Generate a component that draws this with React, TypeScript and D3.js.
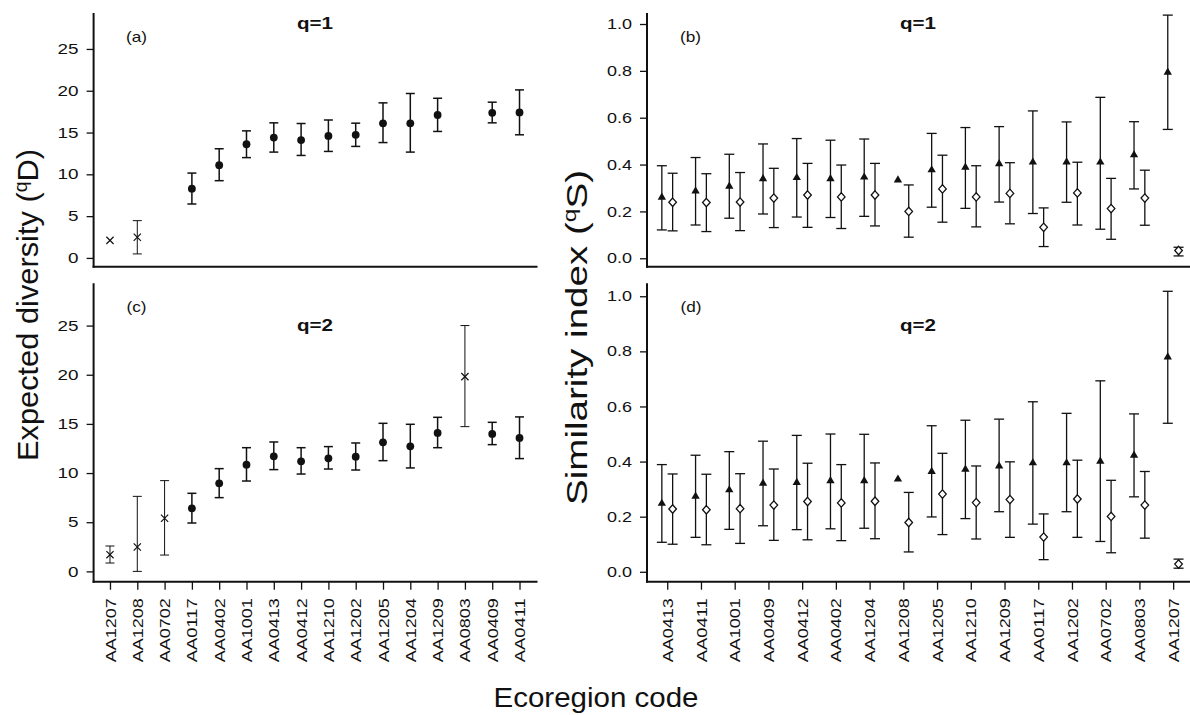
import React, { useEffect, useRef } from "react";
import * as d3 from "d3";

const W = 1190;
const H = 715;
const FONT = '"Liberation Sans", Arial, Helvetica, sans-serif';
const INK = "#111";

// left panels (a) and (c): expected diversity per ecoregion
const leftCodes = [
  "AA1207", "AA1208", "AA0702", "AA0117", "AA0402", "AA1001", "AA0413", "AA0412",
  "AA1210", "AA1202", "AA1205", "AA1204", "AA1209", "AA0803", "AA0409", "AA0411",
];
const crossCodes = ["AA1207", "AA1208", "AA0702", "AA0803"];

const divQ1 = [2.1, 2.47, null, 8.28, 11.1, 13.6, 14.4, 14.1, 14.6, 14.73, 16.1, 16.1, 17.1, null, 17.36, 17.4];
const divQ1Low = [null, 0.48, null, 6.45, 9.24, 12.0, 12.66, 12.26, 12.74, 13.34, 13.8, 12.66, 15.13, null, 16.16, 14.73];
const divQ1High = [null, 4.46, null, 10.15, 13.06, 15.2, 16.16, 16.08, 16.5, 16.12, 18.55, 19.67, 19.1, null, 18.63, 20.1];

const divQ2 = [1.7, 2.48, 5.4, 6.41, 8.96, 10.85, 11.7, 11.19, 11.5, 11.67, 13.13, 12.72, 14.08, 19.81, 13.98, 13.57];
const divQ2Low = [0.85, 0.0, 1.66, 4.92, 7.5, 9.19, 10.35, 9.9, 10.41, 10.31, 11.26, 10.52, 12.58, 14.72, 12.89, 11.47];
const divQ2High = [2.58, 7.63, 9.23, 7.94, 10.45, 12.58, 13.16, 12.58, 12.69, 13.06, 15.06, 14.96, 15.67, 25.0, 15.16, 15.71];

// right panels (b) and (d): similarity index, triangles and diamonds
const rightCodes = [
  "AA0413", "AA0411", "AA1001", "AA0409", "AA0412", "AA0402", "AA1204", "AA1208",
  "AA1205", "AA1210", "AA1209", "AA0117", "AA1202", "AA0702", "AA0803", "AA1207",
];

const simQ1Tri = [0.26, 0.287, 0.307, 0.339, 0.344, 0.339, 0.346, 0.334, 0.377, 0.388, 0.403, 0.41, 0.411, 0.41, 0.441, 0.794];
const simQ1TriLow = [0.121, 0.142, 0.171, 0.189, 0.176, 0.174, 0.179, null, 0.218, 0.213, 0.24, 0.191, 0.239, 0.124, 0.296, 0.55];
const simQ1TriHigh = [0.395, 0.43, 0.444, 0.488, 0.511, 0.504, 0.509, null, 0.533, 0.558, 0.562, 0.629, 0.582, 0.687, 0.583, 1.038];
const simQ1Dia = [0.239, 0.238, 0.24, 0.257, 0.27, 0.262, 0.27, 0.2, 0.296, 0.262, 0.277, 0.132, 0.279, 0.212, 0.257, 0.033];
const simQ1DiaLow = [0.117, 0.114, 0.118, 0.131, 0.132, 0.127, 0.138, 0.09, 0.154, 0.134, 0.147, 0.05, 0.142, 0.081, 0.141, 0.01];
const simQ1DiaHigh = [0.363, 0.361, 0.366, 0.384, 0.405, 0.398, 0.405, 0.313, 0.44, 0.395, 0.408, 0.215, 0.41, 0.341, 0.376, 0.047];

const simQ2Tri = [0.248, 0.274, 0.297, 0.321, 0.324, 0.33, 0.33, 0.336, 0.364, 0.372, 0.384, 0.395, 0.395, 0.401, 0.423, 0.779];
const simQ2TriLow = [0.107, 0.125, 0.154, 0.167, 0.153, 0.156, 0.158, null, 0.199, 0.193, 0.218, 0.173, 0.218, 0.11, 0.272, 0.539];
const simQ2TriHigh = [0.389, 0.423, 0.436, 0.474, 0.495, 0.5, 0.499, null, 0.53, 0.55, 0.554, 0.617, 0.575, 0.693, 0.573, 1.018];
const simQ2Dia = [0.228, 0.225, 0.229, 0.242, 0.255, 0.25, 0.256, 0.179, 0.282, 0.251, 0.262, 0.126, 0.264, 0.201, 0.242, 0.028];
const simQ2DiaLow = [0.1, 0.098, 0.103, 0.114, 0.116, 0.113, 0.12, 0.072, 0.135, 0.119, 0.125, 0.044, 0.125, 0.069, 0.122, 0.013];
const simQ2DiaHigh = [0.355, 0.354, 0.356, 0.373, 0.394, 0.389, 0.395, 0.288, 0.43, 0.384, 0.399, 0.21, 0.405, 0.332, 0.364, 0.046];

const divTicks = [0, 5, 10, 15, 20, 25];
const simTicks = [0, 0.2, 0.4, 0.6, 0.8, 1.0];

type Num = number | null;

export default function App() {
  const svgRef = useRef<SVGSVGElement>(null);

  useEffect(() => {
    const svg = d3.select(svgRef.current);
    svg.selectAll("*").remove();

    const xLeft = d3.scaleLinear().domain([-0.6, 15.6]).range([93.6, 535.9]);
    const xRight = d3.scaleLinear().domain([-0.6, 15.6]).range([647, 1193.4]);
    const topRow: [number, number] = [266.7, 13];
    const botRow: [number, number] = [581.7, 283.3];

    const frame = (x: d3.ScaleLinear<number, number>, rows: [number, number], xEnd: number) => {
      svg.append("line").attr("x1", x.range()[0]).attr("x2", x.range()[0])
        .attr("y1", rows[1]).attr("y2", rows[0] + 1)
        .attr("stroke", INK).attr("stroke-width", 2);
      svg.append("line").attr("x1", x.range()[0] - 1).attr("x2", xEnd)
        .attr("y1", rows[0]).attr("y2", rows[0])
        .attr("stroke", INK).attr("stroke-width", 2);
    };

    const yAxis = (x0: number, y: d3.ScaleLinear<number, number>, vals: number[], fmt: (v: number) => string) => {
      const g = svg.append("g").attr("transform", `translate(${x0},0)`)
        .call(d3.axisLeft(y).tickValues(vals).tickSize(7).tickPadding(8).tickFormat((v) => fmt(+v)));
      g.select(".domain").remove();
      g.selectAll(".tick line").attr("stroke", INK).attr("stroke-width", 1.3);
      g.selectAll<SVGTextElement, number>(".tick text")
        .attr("fill", INK)
        .style("font-family", FONT)
        .style("font-size", "14.5px")
        .attr("textLength", (v) => {
          const s = fmt(v);
          return s.replace(".", "").length * 10.5 + (s.includes(".") ? 4 : 0);
        })
        .attr("lengthAdjust", "spacingAndGlyphs");
    };

    const xAxis = (x: d3.ScaleLinear<number, number>, yPos: number, codes: string[]) => {
      const g = svg.append("g").attr("transform", `translate(0,${yPos})`)
        .call(d3.axisBottom(x).tickValues(d3.range(codes.length)).tickSize(8).tickFormat((i) => codes[+i]));
      g.select(".domain").remove();
      g.selectAll(".tick line").attr("stroke", INK).attr("stroke-width", 1.3);
      g.selectAll(".tick text")
        .attr("transform", "rotate(-90)")
        .attr("x", -16.5)
        .attr("y", 0)
        .attr("dy", "0.36em")
        .attr("text-anchor", "end")
        .attr("fill", INK)
        .style("font-family", FONT)
        .style("font-size", "14px")
        .attr("textLength", 64)
        .attr("lengthAdjust", "spacingAndGlyphs");
    };

    const bars = (xs: number[], y: d3.ScaleLinear<number, number>, lo: Num[], hi: Num[], cap: number, sw: number) => {
      xs.forEach((cx, i) => {
        const l = lo[i];
        const h = hi[i];
        if (l == null || h == null) return;
        const g = svg.append("g").attr("stroke", INK).attr("stroke-width", sw);
        g.append("line").attr("x1", cx).attr("x2", cx).attr("y1", y(h)).attr("y2", y(l));
        g.append("line").attr("x1", cx - cap / 2).attr("x2", cx + cap / 2).attr("y1", y(h)).attr("y2", y(h));
        g.append("line").attr("x1", cx - cap / 2).attr("x2", cx + cap / 2).attr("y1", y(l)).attr("y2", y(l));
      });
    };

    const label = (txt: string, x: number, y: number, size: number, len: number, bold = false) => {
      svg.append("text").attr("x", x).attr("y", y).attr("text-anchor", "middle")
        .attr("fill", INK).style("font-family", FONT).style("font-size", `${size}px`)
        .style("font-weight", bold ? "bold" : "normal")
        .attr("textLength", len).attr("lengthAdjust", "spacingAndGlyphs")
        .text(txt);
    };

    // ---- left panels: expected diversity
    const divPanels = [
      { rows: topRow, mean: divQ1, lo: divQ1Low, hi: divQ1High, showX: false },
      { rows: botRow, mean: divQ2, lo: divQ2Low, hi: divQ2High, showX: true },
    ];
    divPanels.forEach((p) => {
      const y = d3.scaleLinear().domain([-1.05, 29.3]).range(p.rows);
      frame(xLeft, p.rows, 537.5);
      yAxis(xLeft.range()[0], y, divTicks, (v) => String(v));
      if (p.showX) xAxis(xLeft, p.rows[0], leftCodes);
      const xs = leftCodes.map((_, i) => xLeft(i));
      const isCross = leftCodes.map((c) => crossCodes.includes(c));
      xs.forEach((cx, i) => {
        if (p.lo[i] == null) return;
        bars([cx], y, [p.lo[i]], [p.hi[i]], 9, isCross[i] ? 1.0 : 1.5);
      });
      xs.forEach((cx, i) => {
        const v = p.mean[i];
        if (v == null) return;
        if (isCross[i]) {
          const s = 3.6;
          const cy = y(v);
          svg.append("path")
            .attr("d", `M${cx - s},${cy - s}L${cx + s},${cy + s}M${cx - s},${cy + s}L${cx + s},${cy - s}`)
            .attr("stroke", INK).attr("stroke-width", 1.2).attr("fill", "none");
        } else {
          svg.append("circle").attr("cx", cx).attr("cy", y(v)).attr("r", 3.9).attr("fill", INK);
        }
      });
    });

    // ---- right panels: similarity index
    const simPanels = [
      { rows: topRow, tri: simQ1Tri, triLo: simQ1TriLow, triHi: simQ1TriHigh, dia: simQ1Dia, diaLo: simQ1DiaLow, diaHi: simQ1DiaHigh, showX: false },
      { rows: botRow, tri: simQ2Tri, triLo: simQ2TriLow, triHi: simQ2TriHigh, dia: simQ2Dia, diaLo: simQ2DiaLow, diaHi: simQ2DiaHigh, showX: true },
    ];
    const off = 0.16;
    simPanels.forEach((p) => {
      const y = d3.scaleLinear().domain([-0.036, 1.047]).range(p.rows);
      frame(xRight, p.rows, W + 5);
      yAxis(xRight.range()[0], y, simTicks, d3.format(".1f"));
      if (p.showX) xAxis(xRight, p.rows[0], rightCodes);
      const triX = rightCodes.map((_, i) => xRight(i - off));
      const diaX = rightCodes.map((_, i) => xRight(i + off));
      bars(triX, y, p.triLo, p.triHi, 10, 1.3);
      bars(diaX, y, p.diaLo, p.diaHi, 10, 1.3);
      const tri = d3.symbol().type(d3.symbolTriangle).size(30);
      triX.forEach((cx, i) => {
        svg.append("path").attr("d", tri()).attr("transform", `translate(${cx},${y(p.tri[i])})`).attr("fill", INK);
      });
      diaX.forEach((cx, i) => {
        const cy = y(p.dia[i]);
        svg.append("path")
          .attr("d", `M${cx},${cy - 4.2}L${cx + 3.8},${cy}L${cx},${cy + 4.2}L${cx - 3.8},${cy}Z`)
          .attr("fill", "#fff").attr("stroke", INK).attr("stroke-width", 1.3);
      });
    });

    // ---- panel letters and titles
    label("(a)", 136.6, 42, 14.5, 21);
    label("(b)", 690.5, 42, 14.5, 21);
    label("(c)", 136.6, 312, 14.5, 20);
    label("(d)", 691, 312, 14.5, 21);
    label("q=1", 315, 29, 17, 36, true);
    label("q=1", 918, 29, 17, 36, true);
    label("q=2", 315, 330.5, 17, 36, true);
    label("q=2", 918, 330.5, 17, 36, true);

    // ---- axis titles
    const yTitle = (x: number, cy: number, main: string, sup: string, tail: string, len: number) => {
      const t = svg.append("text")
        .attr("transform", `translate(${x},${cy}) rotate(-90)`)
        .attr("text-anchor", "middle")
        .attr("fill", INK)
        .style("font-family", FONT)
        .style("font-size", "30px")
        .attr("textLength", len)
        .attr("lengthAdjust", "spacingAndGlyphs");
      t.append("tspan").text(main);
      t.append("tspan").attr("dy", -11).style("font-size", "19px").text(sup);
      t.append("tspan").attr("dy", 11).text(tail);
    };
    yTitle(38.3, 305, "Expected diversity (", "q", "D)", 312);
    yTitle(586.7, 337.5, "Similarity index (", "q", "S)", 335);

    svg.append("text")
      .attr("x", 596).attr("y", 706.5)
      .attr("text-anchor", "middle")
      .attr("fill", INK)
      .style("font-family", FONT)
      .style("font-size", "28px")
      .attr("textLength", 205)
      .attr("lengthAdjust", "spacingAndGlyphs")
      .text("Ecoregion code");
  }, []);

  return (
    <svg
      ref={svgRef}
      width={W}
      height={H}
      style={{ position: "absolute", left: 0, top: 0, background: "#fff", overflow: "hidden" }}
    />
  );
}
